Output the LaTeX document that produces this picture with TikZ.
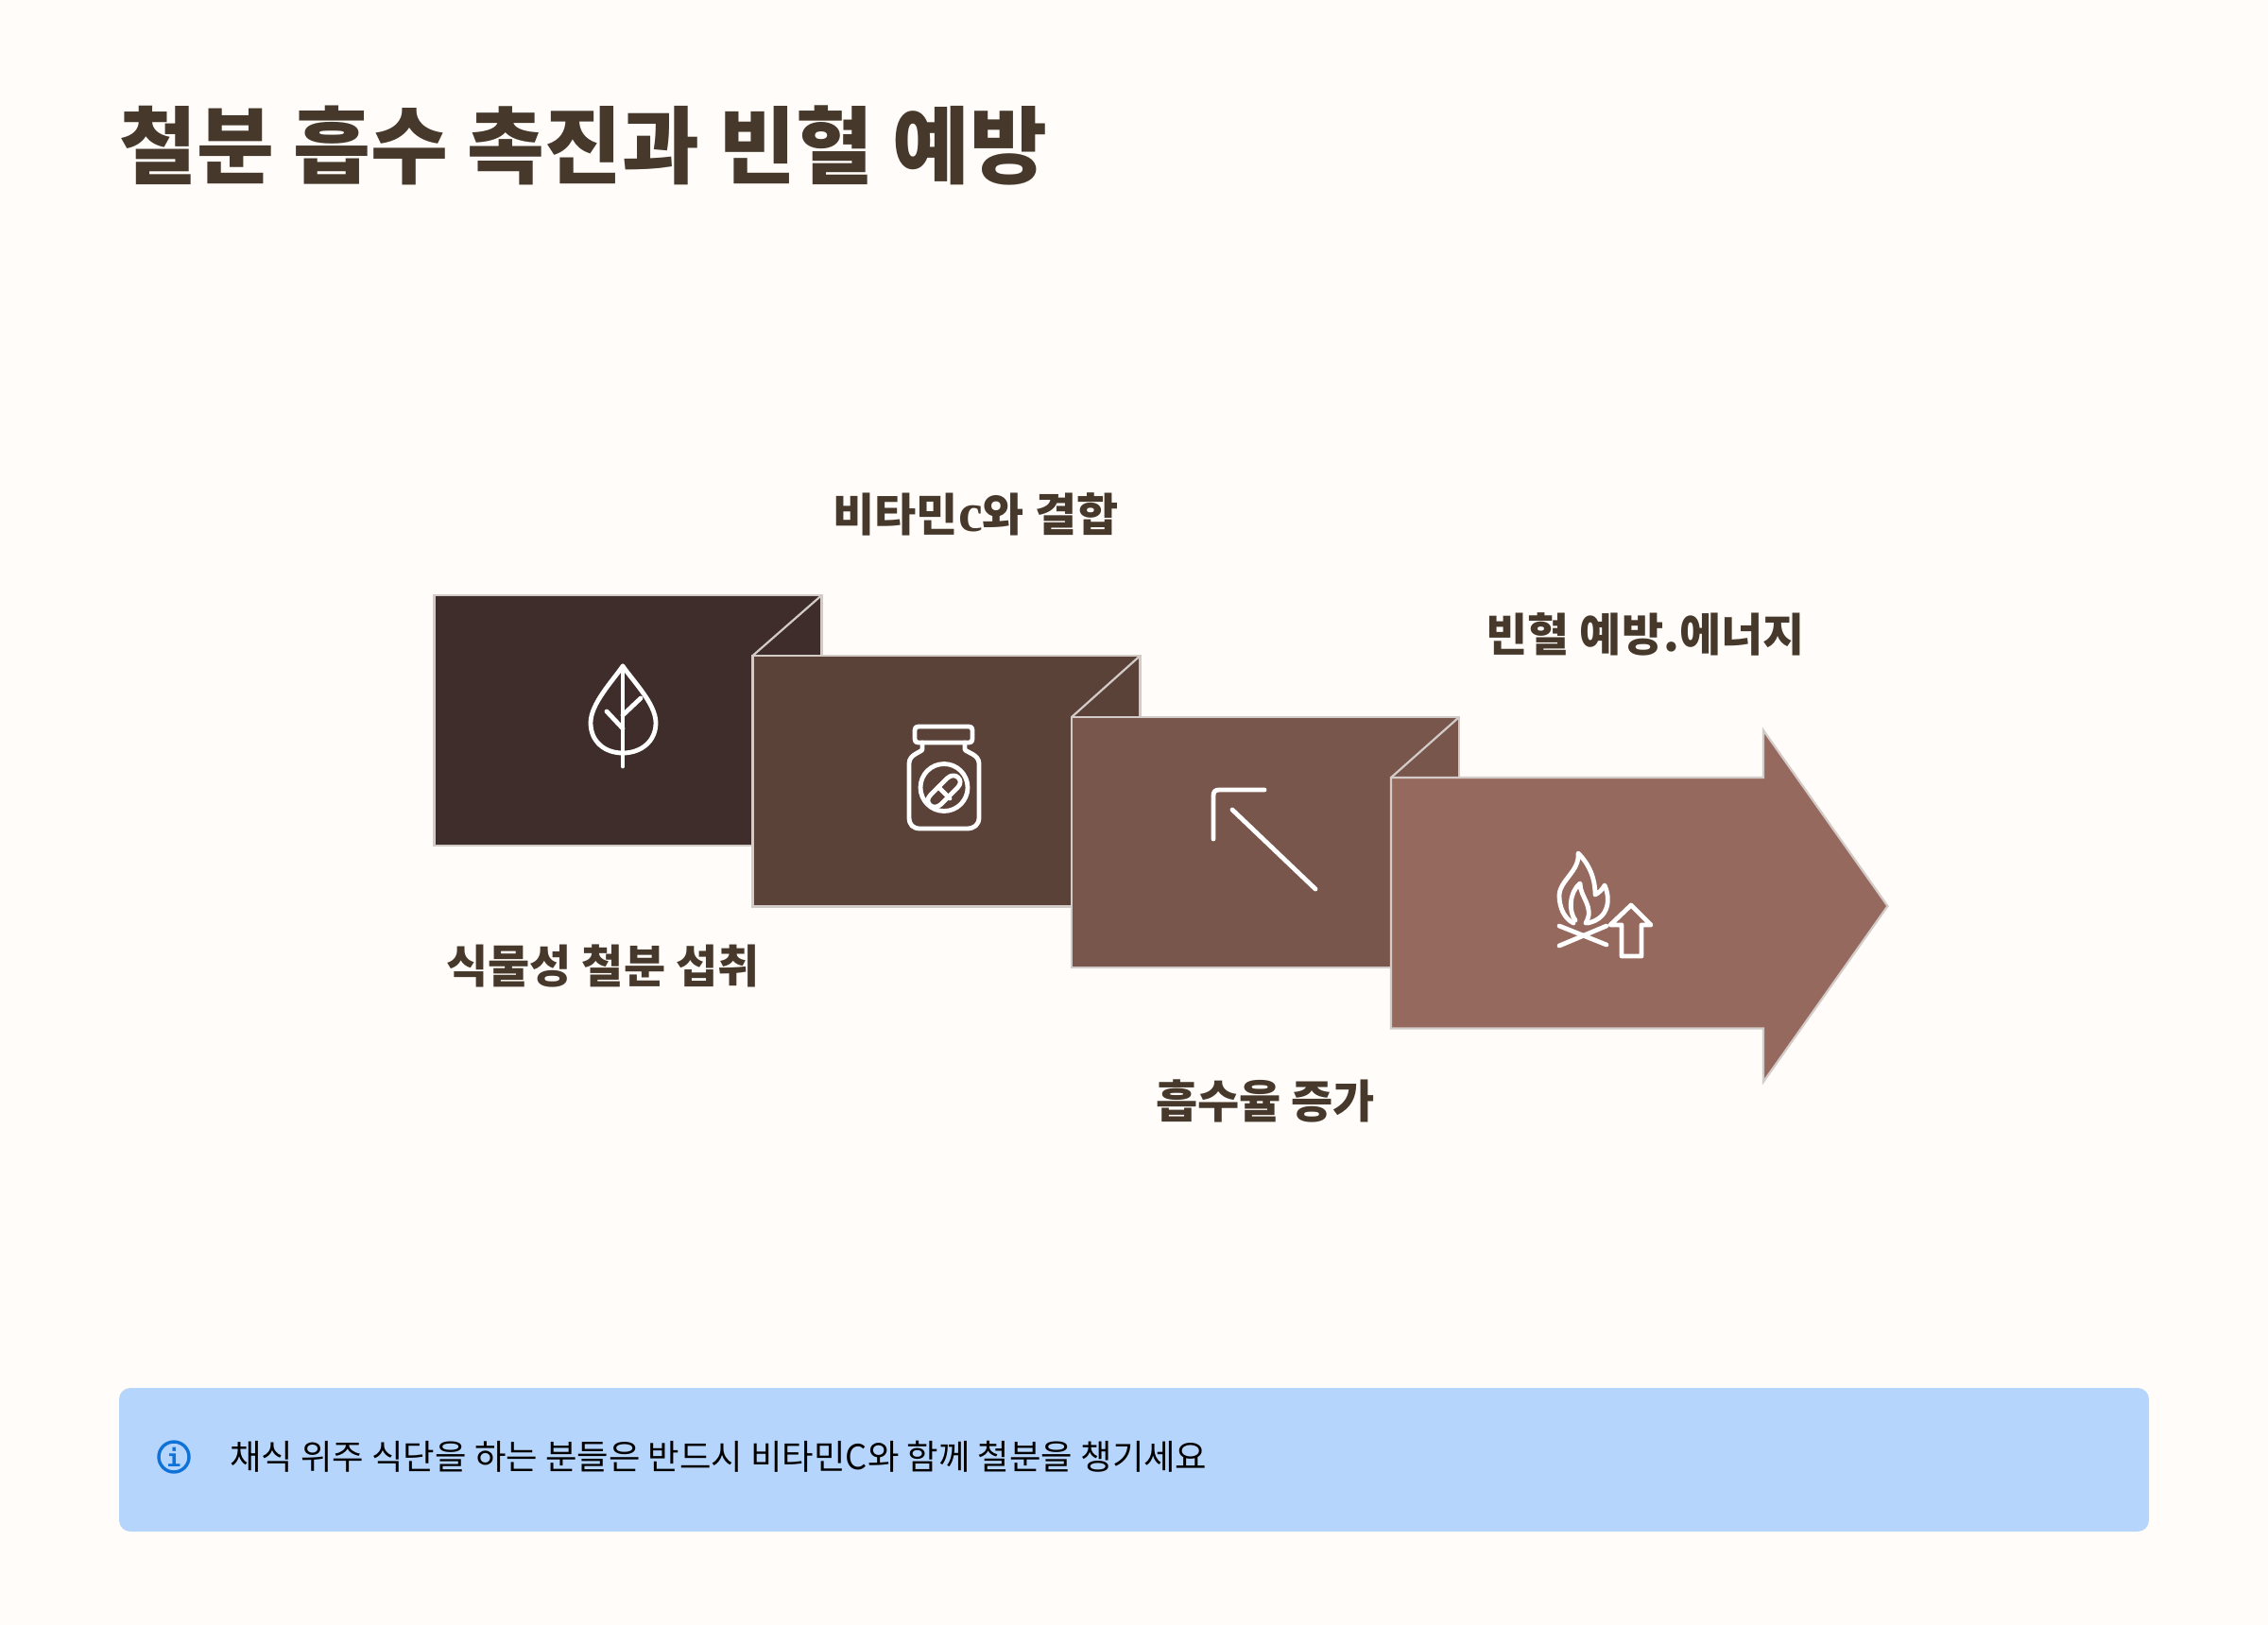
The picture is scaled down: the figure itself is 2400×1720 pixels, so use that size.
\documentclass[tikz,border=0pt]{standalone}
\usepackage{fontspec}
\setmainfont{Noto Sans CJK KR}
\newfontfamily\latinserif[BoldFont={Liberation Serif Bold}]{Liberation Serif}
\newfontfamily\infofont[BoldFont={DejaVu Sans Mono Bold}]{DejaVu Sans Mono}
\newcommand{\fsz}[1]{\fontsize{#1bp}{#1bp}\selectfont}
\definecolor{pagebg}{HTML}{FFFCF9}
\definecolor{ink}{HTML}{46382A}
\definecolor{edgec}{HTML}{D2CBC8}
\definecolor{cA}{HTML}{3E2D2A}
\definecolor{cB}{HTML}{5B4239}
\definecolor{cC}{HTML}{79564C}
\definecolor{cD}{HTML}{96695E}
\definecolor{bannerc}{HTML}{B5D5FC}
\definecolor{infoc}{HTML}{0F72D8}
\tikzset{
  panel/.style={draw=edgec,line width=2.2bp,line join=miter},
  glyph/.style={draw=white,line width=4.8bp,line cap=round,line join=round},
  heading/.style={inner sep=0pt,text=ink,font=\bfseries\fsz{89},anchor=base west},
  steplabel/.style={inner sep=0pt,text=ink,font=\bfseries\fsz{48},anchor=base},
  notetext/.style={inner sep=0pt,text=black,font=\fsz{36.4},anchor=base west}
}
\begin{document}
\begin{tikzpicture}[x=1bp,y=-1bp]
\useasboundingbox (0,0) rectangle (2400,1720);
\fill[pagebg] (0,0) rectangle (2400,1720);
\node[heading] (title) at (126,187) {철분 흡수 촉진과 빈혈 예방};

% panels
\filldraw[panel,fill=cA] (459.5,630) -- (869.5,630) -- (869.5,694) -- (796.5,694) -- (796.5,895) -- (459.5,895) -- cycle;
\draw[panel] (796.5,694) -- (869.5,630);
\filldraw[panel,fill=cB] (796.5,694) -- (1206.5,694) -- (1206.5,759) -- (1134,759) -- (1134,959.5) -- (796.5,959.5) -- cycle;
\draw[panel] (1134,759) -- (1206.5,694);
\filldraw[panel,fill=cC] (1134,759) -- (1544,759) -- (1544,823) -- (1472,823) -- (1472,1024) -- (1134,1024) -- cycle;
\draw[panel] (1472,823) -- (1544,759);
\filldraw[panel,fill=cD] (1472,823) -- (1866,823) -- (1866,773) -- (1997.5,959) -- (1866,1145) -- (1866,1088.5) -- (1472,1088.5) -- cycle;

% leaf icon
\draw[glyph] (659,705) .. controls (648,721) and (625,745) .. (625,765)
  .. controls (625,785) and (640,797) .. (659,797)
  .. controls (678,797) and (694,785) .. (694,765)
  .. controls (694,745) and (670,721) .. (659,705) -- cycle;
\draw[glyph] (659,705) -- (659,811);
\draw[glyph] (659,771) -- (642,753);
\draw[glyph] (659,757) -- (678,739);

% jar icon
\draw[glyph] (972,769) -- (1025,769) .. controls (1028,769) and (1029,770) .. (1029,773) -- (1029,782) .. controls (1029,785) and (1028,786) .. (1025,786) -- (972,786) .. controls (969,786) and (968,785) .. (968,782) -- (968,773) .. controls (968,770) and (969,769) .. (972,769) -- cycle;
\draw[glyph] (976,786) -- (976,793) .. controls (976,796) and (962,798) .. (962,808) -- (962,865) .. controls (962,873) and (966,877) .. (974,877) -- (1023,877) .. controls (1031,877) and (1036,873) .. (1036,865) -- (1036,808) .. controls (1036,798) and (1021,796) .. (1021,793) -- (1021,786);
\draw[glyph] (999,833.5) circle[radius=25];
\draw[glyph] (985,841) -- (1002,824) .. controls (1006,820) and (1011,820) .. (1014,823) .. controls (1017,826) and (1017,830) .. (1013,834) -- (996,851) .. controls (992,855) and (987,855) .. (984,852) .. controls (981,849) and (981,845) .. (985,841) -- cycle;
\draw[glyph] (993,833) -- (1005,845);

% arrow icon
\draw[glyph] (1392,941) -- (1304,857);
\draw[glyph] (1338,836) -- (1290,836) .. controls (1286,836) and (1284,838) .. (1284,842) -- (1284,888);

% fire icon
\draw[glyph] (1665,977) .. controls (1655,972) and (1650,960) .. (1650,948) .. controls (1650,932) and (1672,922) .. (1670,903)
  .. controls (1682,915) and (1688,930) .. (1688,947) .. controls (1692,945) and (1696,941) .. (1698,937)
  .. controls (1704,950) and (1704,972) .. (1680,977);
\draw[glyph] (1667,974) .. controls (1660,965) and (1660,945) .. (1672,935)
  .. controls (1672,950) and (1688,960) .. (1678,977);
\draw[glyph] (1650,980) -- (1700,1000);
\draw[glyph] (1700,980) -- (1650,1001);
\draw[glyph] (1726,958) -- (1747,979) -- (1737,979) -- (1737,1012) -- (1716,1012) -- (1716,979) -- (1704,979) -- cycle;

% labels
\node[steplabel] (lab1) at (638,1040) {식물성 철분 섭취};
\node[steplabel] (lab2) at (1032.5,562) {비타민{\latinserif\bfseries\fsz{58}c}와 결합};
\node[steplabel] (lab3) at (1339,1183) {흡수율 증가};
\node[steplabel] (lab4) at (1741,689) {빈혈 예방.에너지};

% banner
\fill[bannerc,rounded corners=12bp] (126,1469) rectangle (2274,1621);
\draw[infoc,line width=3.4bp] (184,1542) circle[radius=16];
\node[inner sep=0pt,text=infoc,font=\infofont\bfseries\fsz{25}] (infoi) at (184,1542) {i};
\node[notetext] (note) at (243,1555) {채식 위주 식단을 하는 분들은 반드시 비타민C와 함께 철분을 챙기세요};
\end{tikzpicture}
\end{document}
